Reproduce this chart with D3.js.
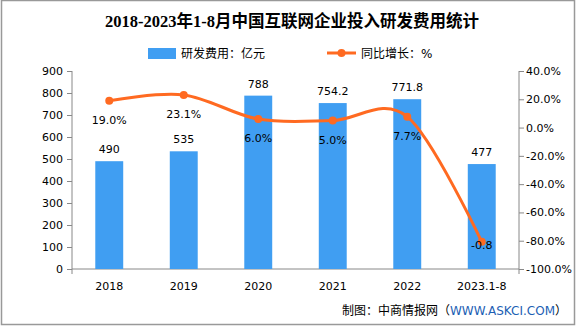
<!DOCTYPE html>
<html>
<head>
<meta charset="utf-8">
<script src="https://cdn.jsdelivr.net/npm/d3@7"></script>
<style>
body { margin: 0; background: #fff; }
svg { display: block; }
</style>
</head>
<body>
<script>
var w = 585;
var h = 327;

var years = ["2018", "2019", "2020", "2021", "2022", "2023.1-8"];
var spend = [490, 535, 788, 754.2, 771.8, 477];
var spendLabels = ["490", "535", "788", "754.2", "771.8", "477"];
var growth = [19.0, 23.1, 6.0, 5.0, 7.7, -80.8];
var growthLabels = ["19.0%", "23.1%", "6.0%", "5.0%", "7.7%", "-0.8"];
var leftTicks = [0, 100, 200, 300, 400, 500, 600, 700, 800, 900];
var rightTicks = [40, 20, 0, -20, -40, -60, -80, -100];

var barColor = "#409ef2";
var lineColor = "#ff6a21";
var axisColor = "#888";
var font = "'DejaVu Sans', 'Noto Sans CJK SC', sans-serif";

var svg = d3.select("body")
    .append("svg")
    .attr("width", w)
    .attr("height", h);

// outer frame
svg.append("rect")
    .attr("x", 1.5).attr("y", 0.5)
    .attr("width", 573).attr("height", 324)
    .attr("fill", "none")
    .attr("stroke", "#999")
    .attr("stroke-width", 1.5);

// title
svg.append("text")
    .attr("x", 292).attr("y", 27)
    .attr("text-anchor", "middle")
    .attr("font-family", "'Liberation Serif', 'Noto Sans CJK SC', serif")
    .attr("font-weight", "bold")
    .attr("font-size", 16.5)
    .text("2018-2023年1-8月中国互联网企业投入研发费用统计");

// legend
svg.append("rect")
    .attr("x", 148).attr("y", 48)
    .attr("width", 28).attr("height", 11)
    .attr("fill", barColor);
svg.append("text")
    .attr("x", 181).attr("y", 58)
    .attr("font-family", font).attr("font-size", 12)
    .text("研发费用：亿元");
svg.append("line")
    .attr("x1", 327).attr("x2", 356)
    .attr("y1", 53).attr("y2", 53)
    .attr("stroke", lineColor).attr("stroke-width", 3);
svg.append("circle")
    .attr("cx", 341.5).attr("cy", 53).attr("r", 4)
    .attr("fill", lineColor);
svg.append("text")
    .attr("x", 361).attr("y", 58)
    .attr("font-family", font).attr("font-size", 12)
    .text("同比增长：%");

var plotL = 72, plotR = 519, plotT = 71, plotB = 269;

var x = d3.scaleBand()
    .domain(years)
    .range([plotL, plotR])
    .paddingInner(0.625)
    .paddingOuter(0.3125);

var xc = d3.scaleBand().domain(years).range([plotL, plotR]);

var y = d3.scaleLinear().domain([0, 900]).range([plotB, plotT]);
var y2 = d3.scaleLinear().domain([-100, 40]).range([plotB, plotT]);

// axes
var gl = svg.append("g")
    .attr("transform", "translate(" + plotL + ",0)")
    .call(d3.axisLeft(y).tickValues(leftTicks).tickSize(5).tickPadding(4));
var gr = svg.append("g")
    .attr("transform", "translate(" + plotR + ",0)")
    .call(d3.axisRight(y2).tickValues(rightTicks).tickSize(5).tickPadding(2)
        .tickFormat(function (d) { return d.toFixed(1) + "%"; }));

[gl, gr].forEach(function (g) {
    g.select(".domain").attr("stroke", axisColor).attr("d", "M0," + plotT + "V" + (plotB + 5));
    g.selectAll(".tick line").attr("stroke", axisColor);
    g.selectAll(".tick text")
        .attr("fill", "#000")
        .attr("font-family", font)
        .attr("font-size", 11);
});

svg.append("line")
    .attr("x1", plotL).attr("x2", plotR)
    .attr("y1", plotB).attr("y2", plotB)
    .attr("stroke", axisColor);

svg.selectAll(".xlabel")
    .data(years)
    .enter()
    .append("text")
    .attr("x", function (d) { return xc(d) + xc.bandwidth() / 2; })
    .attr("y", 290)
    .attr("text-anchor", "middle")
    .attr("font-family", font)
    .attr("font-size", 11)
    .text(function (d) { return d; });

// bars
svg.selectAll(".bar")
    .data(spend)
    .enter()
    .append("rect")
    .attr("x", function (d, i) { return x(years[i]); })
    .attr("y", function (d) { return y(d); })
    .attr("width", x.bandwidth())
    .attr("height", function (d) { return plotB - y(d); })
    .attr("fill", barColor);

svg.selectAll(".barlabel")
    .data(spend)
    .enter()
    .append("text")
    .attr("x", function (d, i) { return x(years[i]) + x.bandwidth() / 2; })
    .attr("y", function (d) { return y(d) - 8; })
    .attr("text-anchor", "middle")
    .attr("font-family", font)
    .attr("font-size", 11)
    .text(function (d, i) { return spendLabels[i]; });

// growth line
var pts = growth.map(function (d, i) {
    return [xc(years[i]) + xc.bandwidth() / 2, y2(d)];
});

svg.append("path")
    .datum(pts)
    .attr("fill", "none")
    .attr("stroke", lineColor)
    .attr("stroke-width", 3)
    .attr("d", d3.line().curve(d3.curveCardinal.tension(0)));

svg.selectAll(".dot")
    .data(pts)
    .enter()
    .append("circle")
    .attr("cx", function (d) { return d[0]; })
    .attr("cy", function (d) { return d[1]; })
    .attr("r", 4)
    .attr("fill", lineColor);

// labels sit under the points; the last one would leave the plot, so it stays on its point
svg.selectAll(".linelabel")
    .data(pts)
    .enter()
    .append("text")
    .attr("x", function (d) { return d[0]; })
    .attr("y", function (d, i) { return i === pts.length - 1 ? d[1] + 7 : d[1] + 23; })
    .attr("text-anchor", "middle")
    .attr("font-family", font)
    .attr("font-size", 11)
    .text(function (d, i) { return growthLabels[i]; });

// footer
var foot = svg.append("text")
    .attr("x", 567).attr("y", 315)
    .attr("text-anchor", "end")
    .attr("font-family", font)
    .attr("font-size", 12);
foot.append("tspan").text("制图：中商情报网（");
foot.append("tspan").attr("fill", "#1d5fb4").text("WWW.ASKCI.COM");
foot.append("tspan").text("）");
</script>
</body>
</html>
